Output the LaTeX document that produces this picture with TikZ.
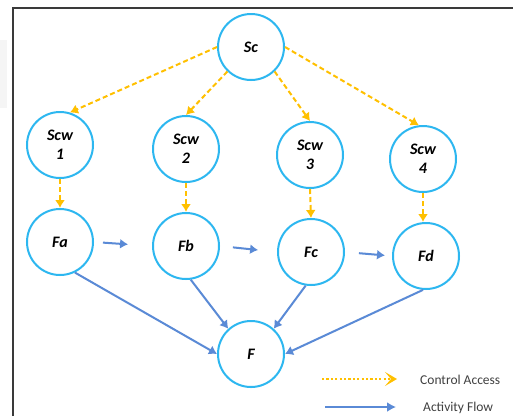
\documentclass[tikz,border=0pt]{standalone}
\usepackage{fontspec}
\setmainfont{Carlito}
\usetikzlibrary{arrows.meta}
\definecolor{ringblue}{HTML}{2DB7F0}
\definecolor{ctrlyellow}{HTML}{FFC000}
\definecolor{flowblue}{HTML}{5A8AD6}
\definecolor{framegray}{HTML}{3A3A3A}
\definecolor{legendtext}{HTML}{404040}
\tikzset{
  unit/.style={circle, draw=ringblue, line width=2pt, minimum size=66pt, inner sep=0pt,
    font=\fontsize{16}{19}\selectfont\bfseries\itshape, text=black, align=center},
  ctrl/.style={draw=ctrlyellow, line width=2pt, dash pattern=on 5pt off 3pt,
    -{Latex[length=8pt,width=10pt]}},
  flow/.style={draw=flowblue, line width=2pt, -{Latex[length=8pt,width=10pt]}},
  legendlabel/.style={font=\fontsize{13.5}{15}\selectfont, text=legendtext, anchor=west, inner sep=0pt}
}
\begin{document}
\begin{tikzpicture}[x=1pt, y=-1pt]
\useasboundingbox (0,0) rectangle (513,416);
\fill[white] (0,0) rectangle (513,416);
% faint marks left of the frame
\fill[black!4] (0,40) rectangle (7,108);
% frame
\draw[framegray, line width=2pt] (13,416) -- (13,8) -- (513,8);

% nodes
\node[unit] (Sc)   at (251,47)  {Sc};
\node[unit] (Scw1) at (60,145)  {Scw\\1};
\node[unit] (Scw2) at (186,149) {Scw\\2};
\node[unit] (Scw3) at (310,155) {Scw\\3};
\node[unit] (Scw4) at (423,159) {Scw\\4};
\node[unit] (Fa)   at (60,242)  {Fa};
\node[unit] (Fb)   at (186,246) {Fb};
\node[unit] (Fc)   at (311,252) {Fc};
\node[unit] (Fd)   at (426,256) {Fd};
\node[unit] (F)    at (251,354) {F};

% control access
\draw[ctrl] (Sc.west) -- (Scw1.73);
\draw[ctrl] (Sc.226)  -- (Scw2.north);
\draw[ctrl] (Sc.314)  -- (Scw3.north);
\draw[ctrl] (Sc.east) -- (Scw4.97);
\draw[ctrl] (Scw1.south) -- (Fa.north);
\draw[ctrl] (Scw2.south) -- (Fb.north);
\draw[ctrl] (Scw3.south) -- (Fc.north);
\draw[ctrl] (Scw4.south) -- (Scw4.south |- Fd.north);

% activity flow
\draw[flow, shorten <=9pt,  shorten >=24pt] (Fa.east) -- (Fb.west);
\draw[flow, shorten <=13pt, shorten >=19pt] (Fb.east) -- (Fc.west);
\draw[flow, shorten <=14pt, shorten >=7pt]  (Fc.east) -- (Fd.west);
\draw[flow] (Fa.296) -- (F.west);
\draw[flow] (Fb.278) -- (F.132);
\draw[flow] (Fc.261) -- (F.48);
\draw[flow] (Fd.265) -- (F.east);

% legend
\coordinate (ca0) at (322,379);
\coordinate (ca1) at (397,379);
\coordinate (af0) at (325,407);
\coordinate (af1) at (396,407);
\draw[ctrlyellow, line width=2.4pt, dash pattern=on 2.2pt off 2.2pt,
  -{Stealth[length=12pt,width=14pt,inset=6pt]}] (ca0) -- (ca1);
\draw[flowblue, line width=2pt, -{Latex[length=9pt,width=10pt]}] (af0) -- (af1);
\node[legendlabel] (calabel) at (420,380) {Control Access};
\node[legendlabel] (aflabel) at (423,408) {Activity Flow};
\end{tikzpicture}
\end{document}
